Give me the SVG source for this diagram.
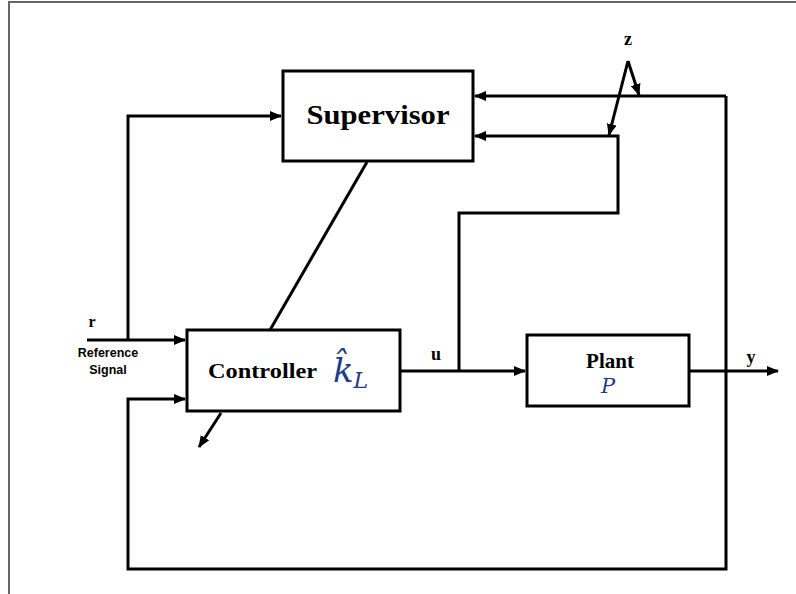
<svg xmlns="http://www.w3.org/2000/svg" width="796" height="594" viewBox="0 0 796 594">
<defs>
<marker id="ah" markerWidth="12" markerHeight="10" refX="11" refY="5" orient="auto" markerUnits="userSpaceOnUse">
<path d="M0,0 L12,5 L0,10 Z" fill="#000"/>
</marker>
<style>
.box{fill:#fff;stroke:#000;stroke-width:3}
.ln{fill:none;stroke:#000;stroke-width:3}
.lbl{font-family:"Liberation Serif",serif;font-weight:bold;fill:#000}
.math{font-family:"DejaVu Serif",serif;font-style:italic;fill:#1f3a8a}
.sans{font-family:"Liberation Sans",sans-serif;font-weight:bold;fill:#000;font-size:12.5px}
</style>
</defs>
<rect width="796" height="594" fill="#fff"/>
<path d="M9,594 V2 H796" fill="none" stroke="#666" stroke-width="2"/>
<g id="connectors">
<path class="ln" d="M87,340 H185" marker-end="url(#ah)"/>
<path class="ln" d="M128,340 V116 H281" marker-end="url(#ah)"/>
<path class="ln" d="M726,96 H475" marker-end="url(#ah)"/>
<path class="ln" d="M726,96 V569 H128 V399 H185" marker-end="url(#ah)"/>
<path class="ln" d="M459,371 V213 H618 V136 H475" marker-end="url(#ah)"/>
<path class="ln" d="M400,371 H525" marker-end="url(#ah)"/>
<path class="ln" d="M689,371 H778" marker-end="url(#ah)"/>
<path class="ln" d="M367,162 L270,330"/>
<path class="ln" d="M221,413 L199,447" marker-end="url(#ah)"/>
<path class="ln" d="M628,61 L639,95" marker-end="url(#ah)"/>
<path class="ln" d="M628,61 L609,135" marker-end="url(#ah)"/>
</g>
<g id="supervisor">
<rect class="box" x="283" y="71" width="190" height="90"/>
<text class="lbl" x="378" y="124" font-size="27" text-anchor="middle" textLength="143" lengthAdjust="spacingAndGlyphs">Supervisor</text>
</g>
<g id="controller">
<rect class="box" x="187" y="330" width="213" height="81"/>
<text class="lbl" x="208" y="378" font-size="22" textLength="109" lengthAdjust="spacingAndGlyphs">Controller</text>
<text class="math" x="333" y="382" font-size="34">k&#x302;<tspan font-size="22" dy="6">L</tspan></text>
</g>
<g id="plant">
<rect class="box" x="527" y="335" width="162" height="71"/>
<text class="lbl" x="610" y="368" font-size="21" text-anchor="middle">Plant</text>
<text class="math" x="608" y="393" font-size="21" text-anchor="middle">P</text>
</g>
<g id="labels">
<text class="lbl" x="628" y="45" font-size="18" text-anchor="middle">z</text>
<text class="lbl" x="92" y="327" font-size="16" text-anchor="middle">r</text>
<text class="sans" x="108" y="357" text-anchor="middle">Reference</text>
<text class="sans" x="108" y="374" text-anchor="middle">Signal</text>
<text class="lbl" x="436" y="360" font-size="18" text-anchor="middle">u</text>
<text class="lbl" x="751" y="363" font-size="18" text-anchor="middle">y</text>
</g>
</svg>
